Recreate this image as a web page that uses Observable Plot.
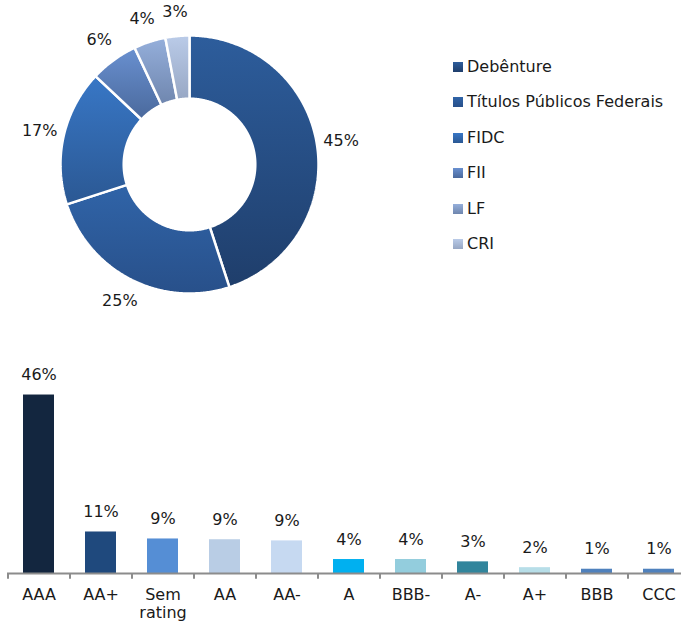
<!DOCTYPE html>
<html>
<head>
<meta charset="utf-8">
<script src="https://cdn.jsdelivr.net/npm/d3@7"></script>
<script src="https://cdn.jsdelivr.net/npm/@observablehq/plot@0.6"></script>
<style>
  html, body { margin: 0; padding: 0; background: #fff; }
  body { width: 681px; height: 623px; overflow: hidden; position: relative; font-family: "DejaVu Sans", Verdana, sans-serif; }
  #donut { position: absolute; left: 0; top: 0; }
  #bars { position: absolute; left: 0; top: 330px; }
  #legend { position: absolute; left: 453px; top: 0; }
  .item { position: absolute; left: 0; white-space: nowrap; font-size: 16px; line-height: 18px; color: #1a1a1a; padding-left: 14px; }
  .sw { position: absolute; left: 0; top: 4px; width: 10px; height: 10px; }
</style>
</head>
<body>
<div id="donut"></div>
<div id="legend"></div>
<div id="bars"></div>
<script>
// ---- Data ----
const assetTypes = ["Debênture", "Títulos Públicos Federais", "FIDC", "FII", "LF", "CRI"];
const assetShares = [45, 25, 17, 6, 4, 3];
const assetLabels = ["45%", "25%", "17%", "6%", "4%", "3%"];

const ratings = ["AAA", "AA+", "Sem rating", "AA", "AA-", "A", "BBB-", "A-", "A+", "BBB", "CCC"];
const ratingShares = [46, 10.7, 8.9, 8.7, 8.4, 3.6, 3.6, 3.0, 1.5, 1.1, 1.1];
const ratingLabels = ["46%", "11%", "9%", "9%", "9%", "4%", "4%", "3%", "2%", "1%", "1%"];

// ---- Styles ----
const sliceGradients = [
  ["#2d5d9c", "#1f3e6b"],
  ["#3064a8", "#28508a"],
  ["#3877c6", "#2b5893"],
  ["#6990d0", "#4a699c"],
  ["#95afdb", "#6f86ae"],
  ["#bacbe8", "#97a7c4"]
];
const barColors = ["#13263f", "#1f497d", "#558ed5", "#b9cde5", "#c6d9f1", "#00b0f0", "#93cddd", "#31859c", "#b7dee8", "#4f81bd", "#4f81bd"];

// ---- Donut ----
const innerRatio = 0.51;
const arcs = d3.pie().sort(null).value(d => d)(assetShares);
const slicePolys = arcs.map(p => {
  const pts = [];
  const n = Math.max(2, Math.ceil((p.endAngle - p.startAngle) / 0.01));
  for (let k = 0; k <= n; k++) {
    const a = p.startAngle + (p.endAngle - p.startAngle) * k / n;
    pts.push({x: Math.sin(a), y: Math.cos(a)});
  }
  for (let k = n; k >= 0; k--) {
    const a = p.startAngle + (p.endAngle - p.startAngle) * k / n;
    pts.push({x: innerRatio * Math.sin(a), y: innerRatio * Math.cos(a)});
  }
  return pts;
});
const labelPts = arcs.map((p, i) => {
  const m = (p.startAngle + p.endAngle) / 2;
  return {x: 1.19 * Math.sin(m), y: 1.19 * Math.cos(m), t: assetLabels[i]};
});

const donut = Plot.plot({
  width: 681, height: 320,
  marginLeft: 60, marginRight: 363, marginTop: 35, marginBottom: 27,
  x: {domain: [-1, 1], axis: null},
  y: {domain: [-1, 1], axis: null},
  style: {fontFamily: "DejaVu Sans, Verdana, sans-serif", background: "white", overflow: "visible", maxWidth: "none"},
  marks: [
    ...slicePolys.map((pts, i) => Plot.line(pts, {
      x: "x", y: "y", curve: "linear-closed",
      fill: `url(#sliceGrad${i})`, stroke: "white", strokeWidth: 2.5, strokeLinejoin: "miter"
    })),
    Plot.text(labelPts, {x: "x", y: "y", text: "t", fontSize: 16, fill: "#1a1a1a"})
  ]
});
const defs = d3.select(donut).insert("defs", ":first-child");
sliceGradients.forEach((c, i) => {
  const g = defs.append("linearGradient").attr("id", `sliceGrad${i}`)
    .attr("x1", 0).attr("y1", 0).attr("x2", 0).attr("y2", 1);
  g.append("stop").attr("offset", "0%").attr("stop-color", c[0]);
  g.append("stop").attr("offset", "100%").attr("stop-color", c[1]);
});
document.getElementById("donut").appendChild(donut);

// ---- Legend ----
const legend = document.getElementById("legend");
assetTypes.forEach((name, i) => {
  const item = document.createElement("div");
  item.className = "item";
  item.style.top = (67 + i * 35.4 - 9) + "px";
  const sw = document.createElement("span");
  sw.className = "sw";
  sw.style.background = `linear-gradient(${sliceGradients[i][0]}, ${sliceGradients[i][1]})`;
  item.appendChild(sw);
  item.appendChild(document.createTextNode(name));
  legend.appendChild(item);
});

// ---- Bars ----
const barData = ratings.map((r, i) => ({rating: r, share: ratingShares[i], label: ratingLabels[i]}));
const bars = Plot.plot({
  width: 690, height: 293,
  marginLeft: 7, marginRight: 1, marginTop: 49, marginBottom: 50,
  x: {type: "band", domain: ratings, paddingInner: 0.5, paddingOuter: 0.25},
  y: {domain: [0, 50], axis: null},
  color: {domain: ratings, range: barColors},
  style: {fontFamily: "DejaVu Sans, Verdana, sans-serif", background: "white", overflow: "visible", maxWidth: "none"},
  marks: [
    Plot.barY(barData, {x: "rating", y: "share", fill: "rating"}),
    Plot.ruleY([0], {stroke: "#8c8c8c", strokeWidth: 2}),
    Plot.ruleX(ratings, {x: d => d, y1: 0, y2: -1.5, dx: -31, stroke: "#8c8c8c", strokeWidth: 2}),
    Plot.axisX({tickSize: 0, tickPadding: 13, tickFormat: d => d.replace(" ", "\n"), lineHeight: 1.15, fontSize: 16, fill: "#1a1a1a", label: null}),
    Plot.text(barData, {x: "rating", y: "share", text: "label", dy: -15, lineAnchor: "bottom", fontSize: 16, fill: "#1a1a1a"})
  ]
});
document.getElementById("bars").appendChild(bars);
</script>
</body>
</html>
